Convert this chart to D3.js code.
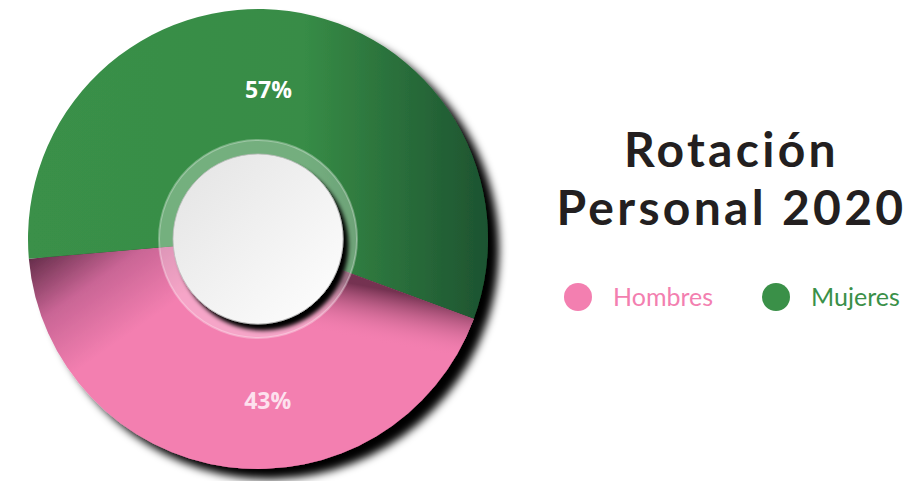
<!DOCTYPE html>
<html>
<head>
<meta charset="utf-8">
<script src="https://cdn.jsdelivr.net/npm/d3@7/dist/d3.min.js"></script>
<style>
  body { margin: 0; background: #fff; }
  svg { display: block; }
</style>
</head>
<body>
<div id="chart"></div>
<script>
// data
var categories = ["Hombres", "Mujeres"];
var values = [43, 57];
var labels = ["43%", "57%"];
var colors = ["#f37fb0", "#3a9048"];
var labelColors = ["#fde1ee", "#ffffff"];
var title = ["Rotación", "Personal 2020"];

var width = 914,
    height = 481;
var cx = 258, cy = 239, outerR = 230;

var svg = d3.select("#chart").append("svg")
    .attr("width", width)
    .attr("height", height);

var defs = svg.append("defs");

// shadow behind the whole donut
var sh = defs.append("filter").attr("id", "shadow")
    .attr("x", "-20%").attr("y", "-20%").attr("width", "140%").attr("height", "140%");
sh.append("feDropShadow").attr("dx", 11).attr("dy", 10)
    .attr("stdDeviation", 4).attr("flood-color", "#000").attr("flood-opacity", 1);

var sh2 = defs.append("filter").attr("id", "shadow2")
    .attr("x", "-20%").attr("y", "-20%").attr("width", "140%").attr("height", "140%");
sh2.append("feDropShadow").attr("dx", 5).attr("dy", 6)
    .attr("stdDeviation", 2).attr("flood-color", "#000").attr("flood-opacity", 1);

// gradients are in the coordinates of the centered group
// green gets darker toward the right
var gGreen = defs.append("linearGradient").attr("id", "gGreen")
    .attr("gradientUnits", "userSpaceOnUse")
    .attr("x1", -outerR).attr("y1", 0).attr("x2", outerR).attr("y2", 0);
gGreen.append("stop").attr("offset", "0").attr("stop-color", "#3a9048");
gGreen.append("stop").attr("offset", "0.6").attr("stop-color", "#378c46");
gGreen.append("stop").attr("offset", "1").attr("stop-color", "#1d5330");

// pink darkens near the top-left edge
var gPink = defs.append("linearGradient").attr("id", "gPink")
    .attr("gradientUnits", "userSpaceOnUse")
    .attr("x1", -222).attr("y1", 8).attr("x2", -150).attr("y2", 110);
gPink.append("stop").attr("offset", "0").attr("stop-color", "#5c2843");
gPink.append("stop").attr("offset", "0.5").attr("stop-color", "#c96595");
gPink.append("stop").attr("offset", "1").attr("stop-color", "#f37fb0");

// and near the top-right edge
var gPinkR = defs.append("linearGradient").attr("id", "gPinkR")
    .attr("gradientUnits", "userSpaceOnUse")
    .attr("x1", 175).attr("y1", 60).attr("x2", 165).attr("y2", 112);
gPinkR.append("stop").attr("offset", "0").attr("stop-color", "#6e2e4c").attr("stop-opacity", 0.95);
gPinkR.append("stop").attr("offset", "1").attr("stop-color", "#f37fb0").attr("stop-opacity", 0);

var gDisc = defs.append("linearGradient").attr("id", "gDisc")
    .attr("x1", "0").attr("y1", "0").attr("x2", "1").attr("y2", "1");
gDisc.append("stop").attr("offset", "0").attr("stop-color", "#e3e3e3");
gDisc.append("stop").attr("offset", "1").attr("stop-color", "#ffffff");

var a0 = 110.3 * Math.PI / 180;
var pie = d3.pie().sort(null)
    .startAngle(a0)
    .endAngle(a0 + 2 * Math.PI);
var arcs = pie(values);

var arc = d3.arc().innerRadius(0).outerRadius(outerR);

var g = svg.append("g").attr("transform", "translate(" + cx + "," + cy + ")");

var donut = g.append("g").attr("filter", "url(#shadow)");
donut.selectAll("path.slice").data(arcs)
    .enter().append("path")
    .attr("class", "slice")
    .attr("d", arc)
    .attr("fill", function(d, i) { return i == 0 ? "url(#gPink)" : "url(#gGreen)"; });

// extra shading on the right end of the pink slice
g.append("path")
    .attr("d", arc({ startAngle: arcs[0].startAngle, endAngle: arcs[0].startAngle + 0.7 }))
    .attr("fill", "url(#gPinkR)");

// translucent ring
g.append("circle").attr("r", 99)
    .attr("fill", "#ffffff").attr("fill-opacity", 0.3)
    .attr("stroke", "#ffffff").attr("stroke-opacity", 0.3).attr("stroke-width", 2);

// white disc
g.append("circle").attr("r", 85)
    .attr("fill", "url(#gDisc)")
    .attr("stroke", "#bdbdbd").attr("stroke-width", 0.8)
    .attr("filter", "url(#shadow2)");

// percentage labels sit just right of the vertical axis
var labelAngle = [Math.PI - 0.06, 0.07],
    labelR = [162, 149];
g.selectAll("text.pct").data(arcs)
    .enter().append("text")
    .attr("class", "pct")
    .attr("x", function(d, i) { return labelR[i] * Math.sin(labelAngle[i]); })
    .attr("y", function(d, i) { return -labelR[i] * Math.cos(labelAngle[i]); })
    .attr("dy", "0.35em")
    .attr("text-anchor", "middle")
    .attr("font-family", "'Open Sans', sans-serif")
    .attr("font-weight", "bold")
    .attr("font-size", 23)
    .attr("fill", function(d, i) { return labelColors[i]; })
    .text(function(d, i) { return labels[i]; });

// title
svg.selectAll("text.title").data(title)
    .enter().append("text")
    .attr("class", "title")
    .attr("x", 731.5)
    .attr("y", function(d, i) { return 167 + i * 58; })
    .attr("text-anchor", "middle")
    .attr("font-family", "Lato, sans-serif")
    .attr("font-weight", "bold")
    .attr("font-size", 48)
    .attr("letter-spacing", 3.3)
    .attr("fill", "#231f20")
    .text(function(d) { return d; });

// legend
var legend = svg.selectAll("g.legend").data(categories)
    .enter().append("g")
    .attr("class", "legend")
    .attr("transform", function(d, i) { return "translate(" + (578 + i * 198) + ",297)"; });
legend.append("circle").attr("r", 14)
    .attr("fill", function(d, i) { return colors[i]; });
legend.append("text")
    .attr("x", 35)
    .attr("y", 9)
    .attr("font-family", "Lato, sans-serif")
    .attr("font-size", 25)
    .attr("fill", function(d, i) { return colors[i]; })
    .text(function(d) { return d; });
</script>
</body>
</html>
